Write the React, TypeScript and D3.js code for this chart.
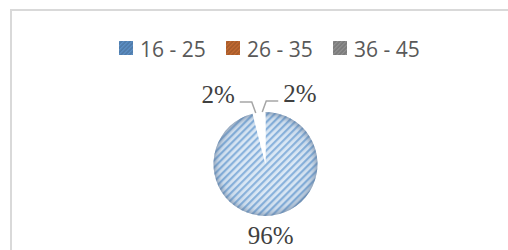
import * as d3 from 'd3';

const categories = ['16 - 25', '26 - 35', '36 - 45'];
const values = [96, 2, 2];
const valueLabels = ['96%', '2%', '2%'];
const legendColors = ['#4f7aa8', '#a65a2a', '#7a7a7a'];

export default function App() {
  const width = 508;
  const height = 250;
  const cx = 265.5;
  const cy = 164;
  const r = 52;

  const pie = d3.pie<number>().sort(null).value((d) => d);
  const arcs = pie(values);
  const arc = d3.arc<d3.PieArcDatum<number>>().innerRadius(0).outerRadius(r);

  // legend layout
  const legendX = d3.scaleBand<string>().domain(categories).range([119, 440]).paddingInner(0);

  const pt = (a: number, rad: number) => [Math.sin(a) * rad, -Math.cos(a) * rad];

  return (
    <svg
      width={width}
      height={height}
      style={{ position: 'absolute', left: 0, top: 0, background: '#fff' }}
    >
      <defs>
        <pattern id="stripe" patternUnits="userSpaceOnUse" width="5" height="5" patternTransform="rotate(-45)">
          <rect width="5" height="5" fill="#d8e6f4" />
          <rect width="5" height="2.2" fill="#7eabd9" />
        </pattern>
        <radialGradient id="shade" cx="0.5" cy="0.5" r="0.5">
          <stop offset="0.55" stopColor="#ffffff" stopOpacity="0.1" />
          <stop offset="0.88" stopColor="#8aa2bd" stopOpacity="0.15" />
          <stop offset="1" stopColor="#5d7390" stopOpacity="0.55" />
        </radialGradient>
        {legendColors.map((c, i) => (
          <pattern key={i} id={`lg${i}`} patternUnits="userSpaceOnUse" width="3" height="3" patternTransform="rotate(-45)">
            <rect width="3" height="3" fill={c} />
            <rect width="3" height="1.2" fill={d3.color(c)!.brighter(0.5).formatHex()} />
          </pattern>
        ))}
      </defs>

      <rect x={11} y={10} width={width} height={height} fill="none" stroke="#d9d9d9" strokeWidth={2} />

      {/* legend */}
      {categories.map((c, i) => (
        <g key={c} transform={`translate(${legendX(c)},41)`}>
          <rect width={14} height={14} fill={`url(#lg${i})`} />
          <text
            x={21}
            y={8}
            dominantBaseline="central"
            fontFamily="'Open Sans', 'Liberation Sans', sans-serif"
            fontSize={21}
            fill="#595959"
          >
            {c}
          </text>
        </g>
      ))}

      {/* pie */}
      <g transform={`translate(${cx},${cy})`}>
        {arcs.map((a, i) => (
          <path key={i} d={arc(a)!} fill={i === 0 ? 'url(#stripe)' : '#ffffff'} />
        ))}
        <path d={arc(arcs[0])!} fill="url(#shade)" />
        {arcs.slice(1).map((a, i) => {
          const mid = (a.startAngle + a.endAngle) / 2;
          const [px, py] = pt(mid, r);
          const dir = i === 0 ? -1 : 1;
          const ex = px + dir * 4;
          const ey = py - 11;
          const hx = ex + dir * 12;
          return (
            <g key={i}>
              <path d={`M${px},${py}L${ex},${ey}L${hx},${ey}`} fill="none" stroke="#a6a6a6" strokeWidth={1.5} />
              <text
                x={hx + dir * 5}
                y={ey + 1}
                textAnchor={dir < 0 ? 'end' : 'start'}
                fontFamily="'Liberation Serif', 'Times New Roman', serif"
                fontSize={25}
                fill="#404040"
              >
                {valueLabels[i + 1]}
              </text>
            </g>
          );
        })}
        {(() => {
          const a = arcs[0];
          const mid = (a.startAngle + a.endAngle) / 2;
          const [lx, ly] = pt(mid, 72);
          return (
            <text
              x={lx - 4}
              y={ly}
              textAnchor="middle"
              dominantBaseline="central"
              fontFamily="'Liberation Serif', 'Times New Roman', serif"
              fontSize={25}
              fill="#404040"
            >
              {valueLabels[0]}
            </text>
          );
        })()}
      </g>
    </svg>
  );
}
